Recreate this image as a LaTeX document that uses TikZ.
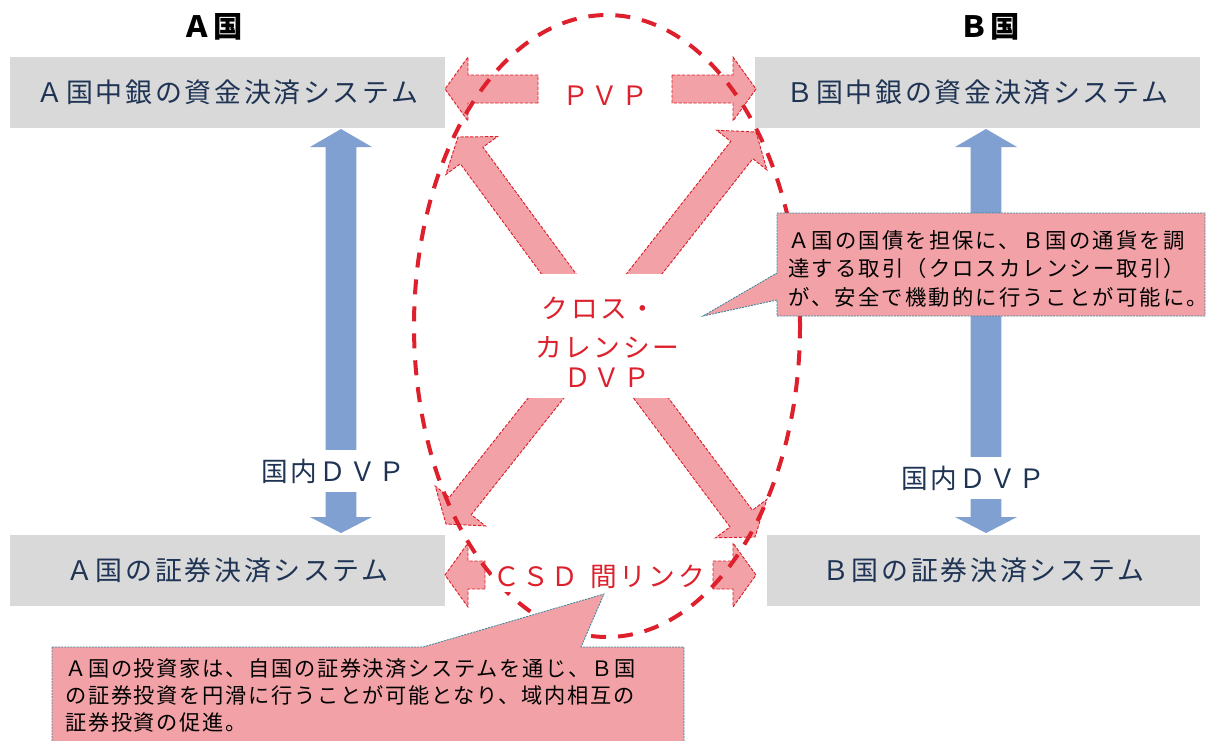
\documentclass[tikz,border=0pt]{standalone}
\usepackage{fontspec}
\setmainfont{Noto Sans CJK JP}
\newfontfamily\jpbig{Noto Sans CJK JP}[LetterSpace=10]
\newfontfamily\jpcall{Noto Sans CJK JP}[LetterSpace=10]
\newfontfamily\jpcallb{Noto Sans CJK JP}[LetterSpace=8]
\newfontfamily\jphdr{Noto Sans CJK JP}[LetterSpace=6]
\usetikzlibrary{calc}
\definecolor{boxgray}{RGB}{217,217,217}
\definecolor{navy}{RGB}{31,52,84}
\definecolor{redc}{RGB}{221,32,43}
\definecolor{pinkf}{RGB}{242,162,166}
\definecolor{bluef}{RGB}{127,160,208}
\definecolor{tealc}{RGB}{49,133,156}
\tikzset{
  gbox/.style={fill=boxgray, draw=none, inner sep=0pt, text=navy,
    font={\jpbig\fontsize{20.2pt}{24pt}\selectfont}},
  hdr/.style={text=black, inner sep=0pt, font={\jphdr\bfseries\fontsize{22pt}{26pt}\selectfont}},
  redtxt/.style={text=redc, inner sep=0pt, font={\jpbig\fontsize{20pt}{24pt}\selectfont}},
  navytxt/.style={text=navy, inner sep=0pt, font={\jpbig\fontsize{20pt}{24pt}\selectfont}},
  pinkarrow/.style={fill=pinkf, draw=redc, line width=0.7pt, dash pattern=on 2.5pt off 1.2pt},
  bluearrow/.style={fill=bluef, draw=none},
  callout/.style={fill=pinkf, draw=tealc, line width=0.6pt, dash pattern=on 1.5pt off 0.8pt},
  redoval/.style={draw=redc, line width=3pt, dash pattern=on 11.25pt off 9pt},
  calltxt/.style={text=black, align=left, inner sep=0pt, anchor=west,
    font={\jpcall\fontsize{16pt}{21.4pt}\selectfont}},
  calltxtb/.style={text=black, align=left, inner sep=0pt, anchor=west,
    font={\jpcallb\fontsize{15.9pt}{20.25pt}\selectfont}}
}
% fat single arrow from tail #1 to tip #2
\newcommand\fatarrow[2]{%
  \coordinate (fah) at ($(#2)!17.25pt!(#1)$);
  \draw[pinkarrow] ($(#1)!10.5pt!90:(#2)$) -- ($(fah)!10.5pt!90:(#2)$)
    -- ($(fah)!24pt!90:(#2)$) -- (#2) -- ($(fah)!24pt!-90:(#2)$)
    -- ($(fah)!10.5pt!-90:(#2)$) -- ($(#1)!10.5pt!-90:(#2)$) -- cycle;}
% fat double arrow between tips #1 and #2
\newcommand\dblarrow[2]{%
  \coordinate (dha) at ($(#1)!13.5pt!(#2)$);
  \coordinate (dhb) at ($(#2)!12pt!(#1)$);
  \fill[bluearrow] (#1) -- ($(dha)!23.25pt!90:(#2)$) -- ($(dha)!11.6pt!90:(#2)$)
    -- ($(dhb)!11.6pt!90:(#2)$) -- ($(dhb)!23.25pt!90:(#2)$) -- (#2)
    -- ($(dhb)!23.25pt!-90:(#2)$) -- ($(dhb)!11.6pt!-90:(#2)$)
    -- ($(dha)!11.6pt!-90:(#2)$) -- ($(dha)!23.25pt!-90:(#2)$) -- cycle;}
\begin{document}
\begin{tikzpicture}[x=0.75pt,y=-0.75pt]
\useasboundingbox (0,0) rectangle (1212,740);
\clip (0,0) rectangle (1212,740);

% headers
\node[hdr] (ha) at (213,27) {Ａ国};
\node[hdr] (hb) at (990,27) {Ｂ国};

% system boxes
\node[gbox, minimum width=435*0.75pt, minimum height=71*0.75pt] (acb) at (227.5,92.5) {Ａ国中銀の資金決済システム};
\node[gbox, minimum width=445*0.75pt, minimum height=71*0.75pt] (bcb) at (977.5,92.5) {Ｂ国中銀の資金決済システム};
\node[gbox, minimum width=435*0.75pt, minimum height=71*0.75pt] (acs) at (227.5,570) {Ａ国の証券決済システム};
\node[gbox, minimum width=433*0.75pt, minimum height=71*0.75pt] (bcs) at (983.5,570) {Ｂ国の証券決済システム};

% domestic DVP arrows
\coordinate (a1) at (341,129);
\coordinate (a2) at (341,533);
\coordinate (b1) at (986,129);
\coordinate (b2) at (986,533);
\dblarrow{a1}{a2}
\dblarrow{b1}{b2}

% PVP arrows
\coordinate (pvpl0) at (538,89);
\coordinate (pvpl1) at (445,89);
\coordinate (pvpr0) at (672,89);
\coordinate (pvpr1) at (756,89);
\fatarrow{pvpl0}{pvpl1}
\fatarrow{pvpr0}{pvpr1}

% CSD link arrows
\coordinate (csdl0) at (485,575);
\coordinate (csdl1) at (445,575);
\coordinate (csdr0) at (713,575);
\coordinate (csdr1) at (756,575);
\fatarrow{csdl0}{csdl1}
\fatarrow{csdr0}{csdr1}

% cross-currency DVP arrows
\coordinate (cc) at (600,330);
\coordinate (tul) at (458,137);
\coordinate (tur) at (756,132);
\coordinate (tll) at (446,524);
\coordinate (tlr) at (755,537);
\fatarrow{cc}{tul}
\fatarrow{cc}{tur}
\fatarrow{cc}{tll}
\fatarrow{cc}{tlr}
\fill[white] (515,274) rectangle (692,398);

% red dashed oval
\draw[redoval] (607,326) ellipse [x radius=144.75pt, y radius=233.25pt];

% labels
\node[redtxt] (pvp) at (605,96) {ＰＶＰ};
\node[redtxt, fill=white, minimum height=30*0.75pt, inner xsep=1pt] (csd) at (599,577) {ＣＳＤ\hspace{0.45em}間リンク};
\node[redtxt] (cx1) at (599,308) {クロス・};
\node[redtxt] (cx2) at (607,347) {カレンシー};
\node[redtxt] (cx3) at (607,378) {ＤＶＰ};
\node[navytxt, fill=white, minimum height=42*0.75pt] (dvpa) at (333,471) {国内ＤＶＰ};
\node[navytxt, fill=white, minimum height=42*0.75pt] (dvpb) at (973,478) {国内ＤＶＰ};

% callout right
\draw[callout] (777,213) -- (1205,213) -- (1205,316) -- (777,316) -- (777,300) -- (703,316) -- (777,273) -- cycle;
\node[calltxt] (c1) at (788,268.5) {Ａ国の国債を担保に、Ｂ国の通貨を調\\達する取引（クロスカレンシー取引）\\が、安全で機動的に行うことが可能に。};

% callout bottom
\draw[callout] (52,647) -- (423,647) -- (604,594) -- (581,647) -- (684,647) -- (684,760) -- (52,760) -- cycle;
\node[calltxtb] (c2) at (65,695) {Ａ国の投資家は、自国の証券決済システムを通じ、Ｂ国\\の証券投資を円滑に行うことが可能となり、域内相互の\\証券投資の促進。};
\end{tikzpicture}
\end{document}
